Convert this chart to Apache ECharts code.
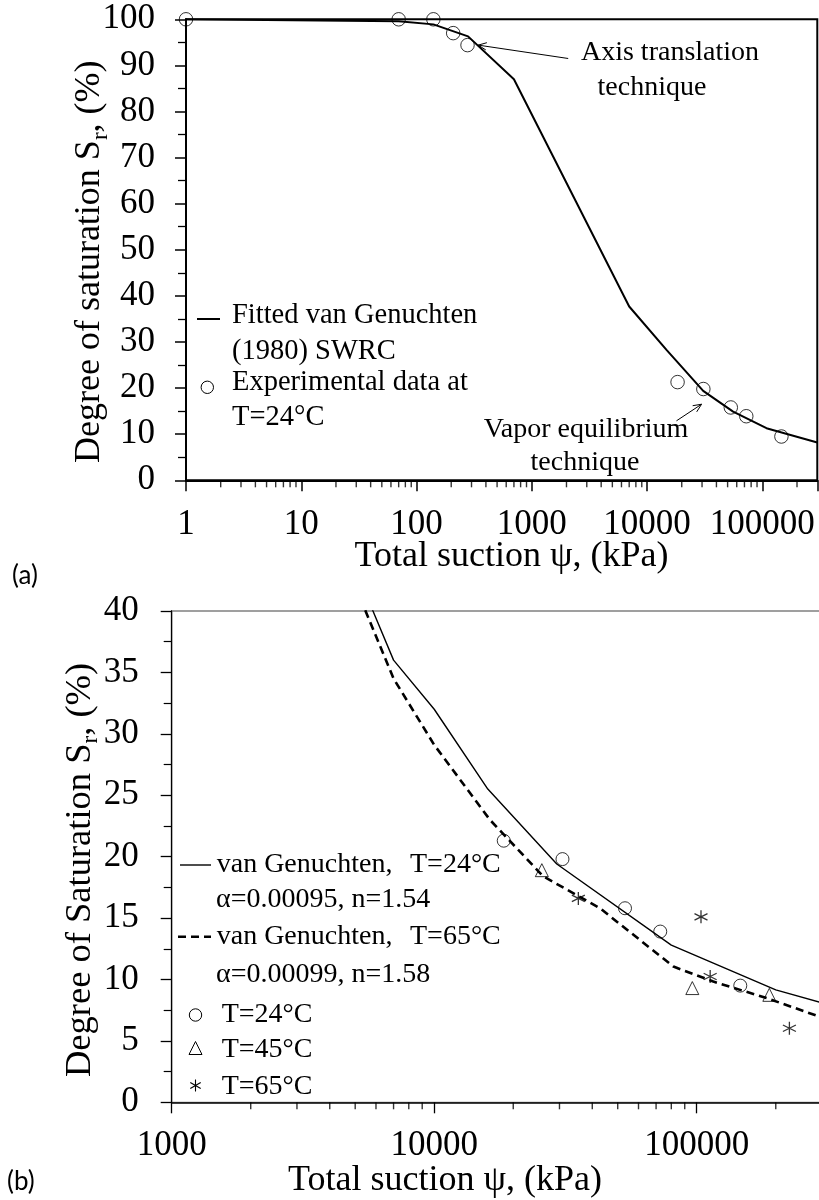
<!DOCTYPE html>
<html>
<head>
<meta charset="utf-8">
<script src="https://cdn.jsdelivr.net/npm/echarts@6/dist/echarts.min.js"></script>
<style>
  html, body { margin: 0; padding: 0; background: #fff; }
  #chart { width: 819px; height: 1200px; }
</style>
</head>
<body>
<div id="chart"></div>
<script>
// ---- Panel (a): full SWRC at 24 °C ----
const fitA_psi = [1, 70, 140, 280, 700, 7000, 14750, 20000, 30700, 55800, 108700, 300000];
const fitA_sr  = [100, 99.6, 98.9, 96.3, 87.0, 37.7, 28.3, 24.6, 19.4, 14.9, 11.3, 8.2];

// axis translation points (low suction)
const expLow_psi = [1, 70, 140, 208, 277];
const expLow_sr  = [100, 100, 100, 97.0, 94.4];
// vapor equilibrium points at 24 °C (shared by both panels)
const exp24_psi = [18400, 30800, 53300, 72600, 146500];
const exp24_sr  = [21.3, 19.8, 15.8, 13.9, 9.5];

// ---- Panel (b): high-suction range, three temperatures ----
const fit24_psi = [700, 7000, 10000, 16000, 29300, 80000, 200000, 300000];
const fit24_sr  = [87, 36, 32, 25.5, 19.4, 12.8, 9.15, 8.1];
const fit65_psi = [700, 7000, 10000, 16300, 26000, 42800, 81500, 115600, 185000, 300000];
const fit65_sr  = [86, 34.5, 29.1, 23.0, 18.4, 15.8, 11.05, 9.83, 8.48, 6.9];

const exp45_psi = [25700, 96200, 189000];
const exp45_sr  = [18.9, 9.3, 8.75];
const exp65_psi = [35400, 103800, 112500, 225400];
const exp65_sr  = [16.6, 15.1, 10.24, 6.03];

// tick labels on the log axes
const xTicksA = [1, 10, 100, 1000, 10000, 100000];
const xTicksB = [1000, 10000, 100000];
// intermediate (unlabelled) ticks on the log axes
const minorTicksA = [2,3,4,5,6,7,8,9, 20,30,40,50,60,70,80,90, 200,300,400,500,600,700,800,900,
  2000,3000,4000,5000,6000,7000,8000,9000, 20000,30000,40000,50000,60000,70000,80000,90000, 200000];
const minorTicksB = [2000,3000,4000,5000,6000,7000,8000,9000, 20000,30000,40000,50000,60000,70000,80000,90000, 200000];

// annotation arrows in panel (a): [from, to] in data units
const arrowsA = [
  [[2070, 91.5], [343, 94.4]],
  [[18000, 12.9], [29700, 16.5]]
];

const SERIF = '"Liberation Serif", "Times New Roman", serif';
const zip = (xs, ys) => xs.map((x, i) => [x, ys[i]]);
const logLabel = (list) => (v) => {
  const r = Math.round(v);
  return list.some(t => Math.abs(t - v) / t < 1e-6) ? String(r) : '';
};
const STAR = 'path://M6,0L6,12M0.8,3L11.2,9M0.8,9L11.2,3';
const CLEAR = 'rgba(0,0,0,0)';

function minorTickSeries(values, axisIdx) {
  return {
    type: 'scatter', xAxisIndex: axisIdx, yAxisIndex: axisIdx,
    data: values.map(v => [v, 0]),
    symbol: 'rect', symbolSize: [1.4, 7], symbolOffset: [0, 3.5],
    itemStyle: { color: '#000' }, clip: false, silent: true, z: 1
  };
}

const chart = echarts.init(document.getElementById('chart'), null, { renderer: 'canvas' });

const option = {
  animation: false,
  backgroundColor: '#fff',
  grid: [
    { left: 186, top: 19.3, right: 1.7, bottom: 719.7, show: true, borderColor: '#000', borderWidth: 2,
      containLabel: false, outerBoundsMode: 'none' },
    { left: 171.7, top: 611, right: -3, bottom: 97.7, show: true, borderColor: '#808080', borderWidth: 1.3,
      containLabel: false, outerBoundsMode: 'none' }
  ],
  xAxis: [
    { gridIndex: 0, type: 'log', logBase: 10, min: 1, max: 300000,
      axisLine: { show: true, lineStyle: { color: '#000', width: 2 } },
      axisTick: { show: true, length: 11, lineStyle: { color: '#000', width: 1.5 } },
      axisLabel: { margin: 27, fontFamily: SERIF, fontSize: 35, color: '#000', formatter: logLabel(xTicksA) },
      splitLine: { show: false }, minorTick: { show: false }, minorSplitLine: { show: false } },
    { gridIndex: 1, type: 'log', logBase: 10, min: 1000, max: 300000,
      axisLine: { show: true, lineStyle: { color: '#000', width: 1.5 } },
      axisTick: { show: true, length: 11, lineStyle: { color: '#000', width: 1.3 } },
      axisLabel: { margin: 26, fontFamily: SERIF, fontSize: 35, color: '#000', formatter: logLabel(xTicksB) },
      splitLine: { show: false }, minorTick: { show: false } }
  ],
  yAxis: [
    { gridIndex: 0, type: 'value', min: 0, max: 100, interval: 10,
      axisLine: { show: true, lineStyle: { color: '#000', width: 2 } },
      axisTick: { show: true, length: 11, lineStyle: { color: '#000', width: 1.5 } },
      minorTick: { show: true, splitNumber: 2, length: 8, lineStyle: { color: '#000', width: 1.3 } },
      axisLabel: { margin: 31, fontFamily: SERIF, fontSize: 35, color: '#000' },
      splitLine: { show: false } },
    { gridIndex: 1, type: 'value', min: 0, max: 40, interval: 5,
      axisLine: { show: true, lineStyle: { color: '#000', width: 1.3 } },
      axisTick: { show: true, length: 11, lineStyle: { color: '#000', width: 1.3 } },
      minorTick: { show: true, splitNumber: 2, length: 8, lineStyle: { color: '#000', width: 1.2 } },
      axisLabel: { margin: 33, fontFamily: SERIF, fontSize: 35, color: '#000' },
      splitLine: { show: false } }
  ],
  series: [
    minorTickSeries(minorTicksA, 0),
    minorTickSeries(minorTicksB, 1),
    { name: 'Fitted van Genuchten (1980) SWRC', type: 'line', xAxisIndex: 0, yAxisIndex: 0,
      data: zip(fitA_psi, fitA_sr), showSymbol: false, symbol: 'none',
      lineStyle: { color: '#000', width: 2 }, z: 2 },
    { name: 'Experimental data at T=24°C', type: 'scatter', xAxisIndex: 0, yAxisIndex: 0,
      data: zip(expLow_psi, expLow_sr).concat(zip(exp24_psi, exp24_sr)),
      symbol: 'circle', symbolSize: 13.5, clip: false,
      itemStyle: { color: CLEAR, borderColor: '#000', borderWidth: 1 }, z: 3 },
    { name: 'van Genuchten, T=24°C', type: 'line', xAxisIndex: 1, yAxisIndex: 1,
      data: zip(fit24_psi, fit24_sr), showSymbol: false, symbol: 'none', clip: true,
      lineStyle: { color: '#000', width: 1.4 }, z: 2 },
    { name: 'van Genuchten, T=65°C', type: 'line', xAxisIndex: 1, yAxisIndex: 1,
      data: zip(fit65_psi, fit65_sr), showSymbol: false, symbol: 'none', clip: true,
      lineStyle: { color: '#000', width: 2.6, type: [8, 5] }, z: 2 },
    { name: 'T=24°C', type: 'scatter', xAxisIndex: 1, yAxisIndex: 1,
      data: zip(exp24_psi, exp24_sr), symbol: 'circle', symbolSize: 13,
      itemStyle: { color: CLEAR, borderColor: '#000', borderWidth: 1 }, z: 3 },
    { name: 'T=45°C', type: 'scatter', xAxisIndex: 1, yAxisIndex: 1,
      data: zip(exp45_psi, exp45_sr), symbol: 'triangle', symbolSize: 13,
      itemStyle: { color: CLEAR, borderColor: '#000', borderWidth: 1 }, z: 3 },
    { name: 'T=65°C', type: 'scatter', xAxisIndex: 1, yAxisIndex: 1,
      data: zip(exp65_psi, exp65_sr), symbol: STAR, symbolSize: 13,
      itemStyle: { color: CLEAR, borderColor: '#000', borderWidth: 1.3 }, z: 3 }
  ]
};
chart.setOption(option);

// ---- text, legends and annotations ----
function txt(text, x, y, size, opts) {
  opts = opts || {};
  return {
    type: 'text', x: x, y: y, rotation: opts.rotation || 0, z: 50,
    style: {
      text: text, fill: '#000', fontSize: size, fontFamily: opts.family || SERIF,
      align: opts.align || 'left', textAlign: opts.align || 'left',
      verticalAlign: 'middle', textVerticalAlign: 'middle'
    }
  };
}

// vertical title with a subscript, laid out piece by piece from its bottom end (reads upward)
const measureCtx = document.createElement('canvas').getContext('2d');
function textWidth(str, size) {
  measureCtx.font = size + 'px "Liberation Serif"';
  return measureCtx.measureText(str).width;
}
function verticalTitle(before, sub, after, cx, y0, size, subSize, subShift) {
  const w1 = textWidth(before, size), w2 = textWidth(sub, subSize);
  const R = Math.PI / 2;
  return [
    txt(before, cx, y0, size, { rotation: R }),
    txt(sub, cx + subShift, y0 - w1, subSize, { rotation: R }),
    txt(after, cx, y0 - w1 - w2, size, { rotation: R })
  ];
}

const els = [
  // axis titles
  ...verticalTitle('Degree of saturation S', 'r', ', (%)', 90, 463, 36, 23, 11),
  txt('Total suction ψ, (kPa)', 511.5, 557, 36, { align: 'center' }),
  ...verticalTitle('Degree of Saturation S', 'r', ', (%)', 80, 1077, 36.5, 23, 11),
  txt('Total suction ψ, (kPa)', 445, 1181, 36, { align: 'center' }),
  // panel tags
  txt('(a)', 12, 576, 26, { family: 'Lato, "Noto Sans", sans-serif' }),
  txt('(b)', 7, 1182, 26, { family: 'Lato, "Noto Sans", sans-serif' }),
  // annotations (a)
  txt('Axis translation', 670, 53, 28, { align: 'center' }),
  txt('technique', 652, 88, 28, { align: 'center' }),
  txt('Vapor equilibrium', 586, 430, 28, { align: 'center' }),
  txt('technique', 585, 463, 28, { align: 'center' }),
  // legend (a)
  { type: 'line', z: 50, shape: { x1: 197, y1: 319, x2: 220, y2: 319 }, style: { stroke: '#000', lineWidth: 2 } },
  { type: 'circle', z: 50, shape: { cx: 207.3, cy: 387.3, r: 6.2 }, style: { stroke: '#000', fill: null, lineWidth: 1 } },
  txt('Fitted van Genuchten', 232, 316, 28.5),
  txt('(1980) SWRC', 232, 351.5, 28.5),
  txt('Experimental data at', 232, 383, 28.5),
  txt('T=24°C', 232, 418, 28.5),
  // legend (b)
  { type: 'line', z: 50, shape: { x1: 180, y1: 865, x2: 211, y2: 865 }, style: { stroke: '#000', lineWidth: 1.4 } },
  { type: 'line', z: 50, shape: { x1: 178, y1: 936.7, x2: 211, y2: 936.7 }, style: { stroke: '#000', lineWidth: 2.6, lineDash: [8, 5] } },
  { type: 'circle', z: 50, shape: { cx: 195.5, cy: 1015, r: 6.2 }, style: { stroke: '#000', fill: null, lineWidth: 1 } },
  { type: 'polygon', z: 50, shape: { points: [[195.5, 1041.5], [202, 1054.5], [189, 1054.5]] }, style: { stroke: '#000', fill: null, lineWidth: 1 } },
  { type: 'line', z: 50, shape: { x1: 195.5, y1: 1079.5, x2: 195.5, y2: 1091.5 }, style: { stroke: '#000', lineWidth: 1.1 } },
  { type: 'line', z: 50, shape: { x1: 190.3, y1: 1082.5, x2: 200.7, y2: 1088.5 }, style: { stroke: '#000', lineWidth: 1.1 } },
  { type: 'line', z: 50, shape: { x1: 190.3, y1: 1088.5, x2: 200.7, y2: 1082.5 }, style: { stroke: '#000', lineWidth: 1.1 } },
  txt('van Genuchten,', 216.7, 865, 28),
  txt('T=24°C', 410, 865, 28),
  txt('α=0.00095, n=1.54', 216, 899.3, 28),
  txt('van Genuchten,', 216.7, 936.7, 28),
  txt('T=65°C', 410, 936.7, 28),
  txt('α=0.00099, n=1.58', 216, 975, 28),
  txt('T=24°C', 221.7, 1015, 28),
  txt('T=45°C', 221.7, 1050, 28),
  txt('T=65°C', 221.7, 1086.7, 28)
];

// arrows drawn from data-space end points through the panel (a) scales
arrowsA.forEach(function (a) {
  const p0 = chart.convertToPixel({ gridIndex: 0 }, a[0]);
  const p1 = chart.convertToPixel({ gridIndex: 0 }, a[1]);
  const ang = Math.atan2(p1[1] - p0[1], p1[0] - p0[0]);
  const L = 9, spread = 0.42;
  els.push({ type: 'line', z: 50, shape: { x1: p0[0], y1: p0[1], x2: p1[0], y2: p1[1] }, style: { stroke: '#000', lineWidth: 1 } });
  els.push({ type: 'polyline', z: 50, shape: { points: [
      [p1[0] - L * Math.cos(ang - spread), p1[1] - L * Math.sin(ang - spread)],
      [p1[0], p1[1]],
      [p1[0] - L * Math.cos(ang + spread), p1[1] - L * Math.sin(ang + spread)]
    ] }, style: { stroke: '#000', lineWidth: 1, fill: null } });
});

chart.setOption({ graphic: { elements: els } });
</script>
</body>
</html>
